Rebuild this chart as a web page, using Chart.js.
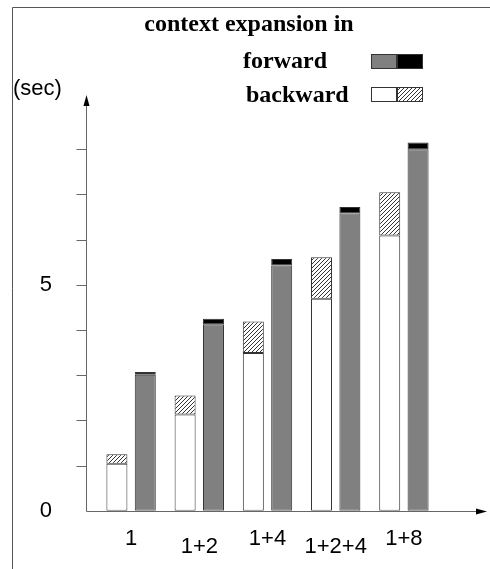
<!DOCTYPE html>
<html>
<head>
<meta charset="utf-8">
<script src="https://cdn.jsdelivr.net/npm/chart.js@4/dist/chart.umd.min.js"></script>
<style>
  html, body { margin: 0; padding: 0; background: #fff; }
  #wrap { width: 490px; height: 569px; }
</style>
</head>
<body>
<div id="wrap"><canvas id="chart" width="490" height="569"></canvas></div>
<script>
// data (seconds)
const categories = ['1', '1+2', '1+4', '1+2+4', '1+8'];
const backwardBase = [1.04, 2.13, 3.49, 4.69, 6.09];
const backwardExpansion = [0.21, 0.42, 0.70, 0.92, 0.96];
const forwardBase = [3.01, 4.13, 5.43, 6.58, 8.00];
const forwardExpansion = [0.06, 0.12, 0.14, 0.14, 0.15];
const yLabelValues = [0, 5];
const yTickMarks = [1, 2, 3, 4, 5, 6, 7, 8];

// hatch fill for the backward expansion part
function makeHatch() {
    const c = document.createElement('canvas');
    c.width = 4;
    c.height = 4;
    const g = c.getContext('2d');
    g.fillStyle = '#fff';
    g.fillRect(0, 0, 4, 4);
    g.strokeStyle = '#333';
    g.lineWidth = 1;
    g.beginPath();
    g.moveTo(0, 4); g.lineTo(4, 0);
    g.moveTo(-1, 1); g.lineTo(1, -1);
    g.moveTo(3, 5); g.lineTo(5, 3);
    g.stroke();
    return g.createPattern(c, 'repeat');
}

const ctx = document.getElementById('chart');
const hatch = makeHatch();

const sans = '"Liberation Sans", Arial, sans-serif';
const serif = '"Liberation Serif", "Times New Roman", serif';

const decorations = {
    id: 'decorations',
    afterDraw(chart) {
        const g = chart.ctx;
        const x = chart.scales.x;
        const y = chart.scales.y;
        const axisX = 86.5;
        const zeroY = Math.round(y.getPixelForValue(0)) + 0.5;
        g.save();

        // frame
        g.strokeStyle = '#555';
        g.lineWidth = 1;
        g.beginPath();
        g.moveTo(12.5, chart.height);
        g.lineTo(12.5, 7.5);
        g.lineTo(chart.width, 7.5);
        g.stroke();

        // axes
        g.strokeStyle = '#666';
        g.beginPath();
        g.moveTo(axisX, zeroY);
        g.lineTo(axisX, y.top + 8);
        g.moveTo(axisX, zeroY);
        g.lineTo(476, zeroY);
        yTickMarks.forEach(v => {
            const py = Math.round(y.getPixelForValue(v)) + 0.5;
            g.moveTo(axisX - 10, py);
            g.lineTo(axisX, py);
        });
        g.stroke();

        // arrow heads
        g.fillStyle = '#000';
        g.beginPath();
        g.moveTo(axisX, y.top);
        g.lineTo(axisX - 3, y.top + 11);
        g.lineTo(axisX + 3, y.top + 11);
        g.closePath();
        g.fill();
        g.beginPath();
        g.moveTo(487, zeroY);
        g.lineTo(476, zeroY - 3);
        g.lineTo(476, zeroY + 3);
        g.closePath();
        g.fill();

        // category labels, staggered
        g.font = '22px ' + sans;
        g.textAlign = 'center';
        g.textBaseline = 'alphabetic';
        categories.forEach((label, i) => {
            const px = x.getPixelForValue(i);
            g.fillText(label, px, i % 2 ? 553 : 545);
        });

        // unit
        g.textAlign = 'left';
        g.fillText('(sec)', 13, 95);

        // legend
        g.font = 'bold 24px ' + serif;
        g.textAlign = 'center';
        g.fillText('context expansion in', 249, 31);
        g.textAlign = 'left';
        g.fillText('forward', 243, 68);
        g.fillText('backward', 246, 102);

        const ds = chart.data.datasets;
        const swatch = (fill, sx, sy) => {
            g.fillStyle = fill;
            g.fillRect(sx, sy, 26, 15);
            g.strokeStyle = '#333';
            g.strokeRect(sx + 0.5, sy + 0.5, 25, 14);
        };
        swatch(ds[2].backgroundColor, 371, 54);
        swatch(ds[3].backgroundColor, 397, 54);
        swatch(ds[0].backgroundColor, 371, 87);
        swatch(ds[1].backgroundColor, 397, 87);

        g.restore();
    }
};

new Chart(ctx, {
    type: 'bar',
    data: {
        labels: categories,
        datasets: [
            { label: 'backward', data: backwardBase, stack: 'bw', backgroundColor: '#fff' },
            { label: 'backward expansion', data: backwardExpansion, stack: 'bw', backgroundColor: hatch },
            { label: 'forward', data: forwardBase, stack: 'fw', backgroundColor: '#808080' },
            { label: 'forward expansion', data: forwardExpansion, stack: 'fw', backgroundColor: '#000' }
        ]
    },
    options: {
        responsive: false,
        animation: false,
        events: [],
        layout: {
            padding: { left: 0, top: 95, right: 52, bottom: 56 }
        },
        datasets: {
            bar: {
                borderColor: '#333',
                borderWidth: 1,
                borderSkipped: false,
                barPercentage: 0.74,
                categoryPercentage: 0.832
            }
        },
        plugins: {
            legend: { display: false },
            tooltip: { enabled: false }
        },
        scales: {
            x: {
                stacked: true,
                display: false
            },
            y: {
                stacked: true,
                min: 0,
                max: 9.2,
                afterFit(scale) { scale.width = 97; },
                border: { display: false },
                grid: { display: false, drawTicks: false },
                ticks: {
                    stepSize: 1,
                    padding: 45,
                    color: '#000',
                    font: { family: sans, size: 22 },
                    callback: v => yLabelValues.includes(v) ? String(v) : ''
                }
            }
        }
    },
    plugins: [decorations]
});
</script>
</body>
</html>
